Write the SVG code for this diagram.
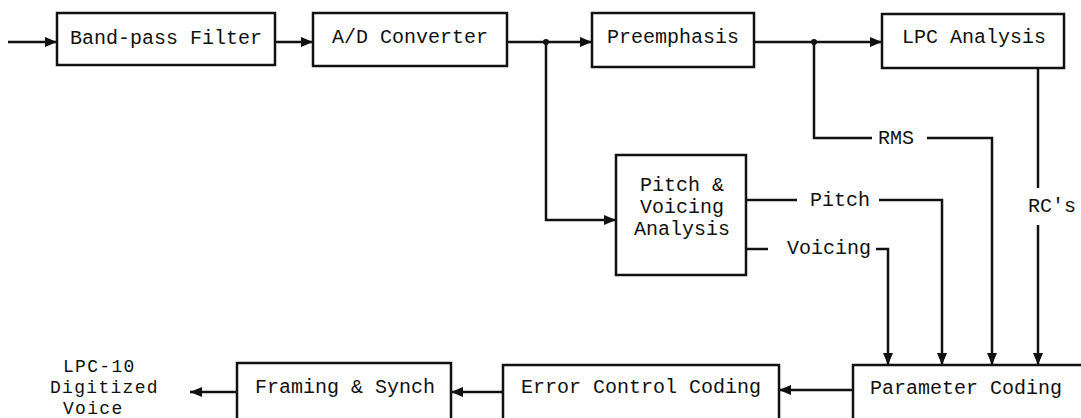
<svg xmlns="http://www.w3.org/2000/svg" width="1081" height="418" viewBox="0 0 1081 418">
  <style>
    .box { fill: #fff; stroke: #111; stroke-width: 2.5; }
    .wire { fill: none; stroke: #111; stroke-width: 2.5; }
    .lbl { font-family: "Liberation Mono", "DejaVu Sans Mono", monospace; font-size: 20px; fill: #111; }
    .out { font-family: "Liberation Mono", "DejaVu Sans Mono", monospace; font-size: 18px; letter-spacing: 1.3px; fill: #111; }
    .mid { text-anchor: middle; }
  </style>
  <defs>
    <marker id="arrow" viewBox="0 0 12 10" refX="12" refY="5" markerWidth="12" markerHeight="10" markerUnits="userSpaceOnUse" orient="auto">
      <path d="M0,0 L12,5 L0,10 Z" fill="#111"/>
    </marker>
  </defs>
  <rect width="1081" height="418" fill="#fff"/>

  <g id="band-pass-filter">
    <rect class="box" x="57" y="13" width="218" height="52"/>
    <text class="lbl mid" x="166" y="44">Band-pass Filter</text>
  </g>
  <g id="ad-converter">
    <rect class="box" x="313" y="13" width="194" height="53"/>
    <text class="lbl mid" x="410" y="43">A/D Converter</text>
  </g>
  <g id="preemphasis">
    <rect class="box" x="592" y="13" width="162" height="54"/>
    <text class="lbl mid" x="673" y="43">Preemphasis</text>
  </g>
  <g id="lpc-analysis">
    <rect class="box" x="882" y="14" width="182" height="54"/>
    <text class="lbl mid" x="974" y="43">LPC Analysis</text>
  </g>
  <g id="pitch-voicing">
    <rect class="box" x="616" y="155" width="130" height="120"/>
    <text class="lbl mid" x="682" y="191">Pitch &amp;</text>
    <text class="lbl mid" x="682" y="213">Voicing</text>
    <text class="lbl mid" x="682" y="235">Analysis</text>
  </g>
  <g id="parameter-coding">
    <rect class="box" x="853" y="365" width="240" height="60"/>
    <text class="lbl mid" x="966" y="394">Parameter Coding</text>
  </g>
  <g id="error-control-coding">
    <rect class="box" x="503" y="365" width="276" height="60"/>
    <text class="lbl mid" x="641" y="393">Error Control Coding</text>
  </g>
  <g id="framing-synch">
    <rect class="box" x="237" y="363" width="214" height="62"/>
    <text class="lbl mid" x="345" y="393">Framing &amp; Synch</text>
  </g>
  <g id="output-label">
    <text class="out" x="63" y="372">LPC-10</text>
    <text class="out" x="50" y="393">Digitized</text>
    <text class="out" x="63" y="414">Voice</text>
  </g>

  <g id="connectors">
    <path class="wire" d="M8,42 H57" marker-end="url(#arrow)"/>
    <path class="wire" d="M275,42 H313" marker-end="url(#arrow)"/>
    <path class="wire" d="M507,42 H592" marker-end="url(#arrow)"/>
    <path class="wire" d="M754,42 H882" marker-end="url(#arrow)"/>
    <circle cx="546" cy="42" r="3" fill="#111"/>
    <circle cx="814" cy="42" r="3" fill="#111"/>
    <path class="wire" d="M546,42 V220 H616" marker-end="url(#arrow)"/>
    <!-- RMS -->
    <path class="wire" d="M814,42 V138 H872"/>
    <path class="wire" d="M927,138 H992 V365" marker-end="url(#arrow)"/>
    <text class="lbl" x="878" y="144">RMS</text>
    <!-- RC's -->
    <path class="wire" d="M1038,68 V188"/>
    <path class="wire" d="M1038,225 V365" marker-end="url(#arrow)"/>
    <text class="lbl" x="1028" y="212">RC's</text>
    <!-- Pitch -->
    <path class="wire" d="M746,200 H797"/>
    <path class="wire" d="M879,200 H942 V365" marker-end="url(#arrow)"/>
    <text class="lbl" x="810" y="206">Pitch</text>
    <!-- Voicing -->
    <path class="wire" d="M746,249 H768"/>
    <path class="wire" d="M876,249 H888 V365" marker-end="url(#arrow)"/>
    <text class="lbl" x="787" y="254">Voicing</text>
    <!-- bottom chain -->
    <path class="wire" d="M853,390 H779" marker-end="url(#arrow)"/>
    <path class="wire" d="M503,392 H451" marker-end="url(#arrow)"/>
    <path class="wire" d="M237,392 H190" marker-end="url(#arrow)"/>
  </g>
</svg>
